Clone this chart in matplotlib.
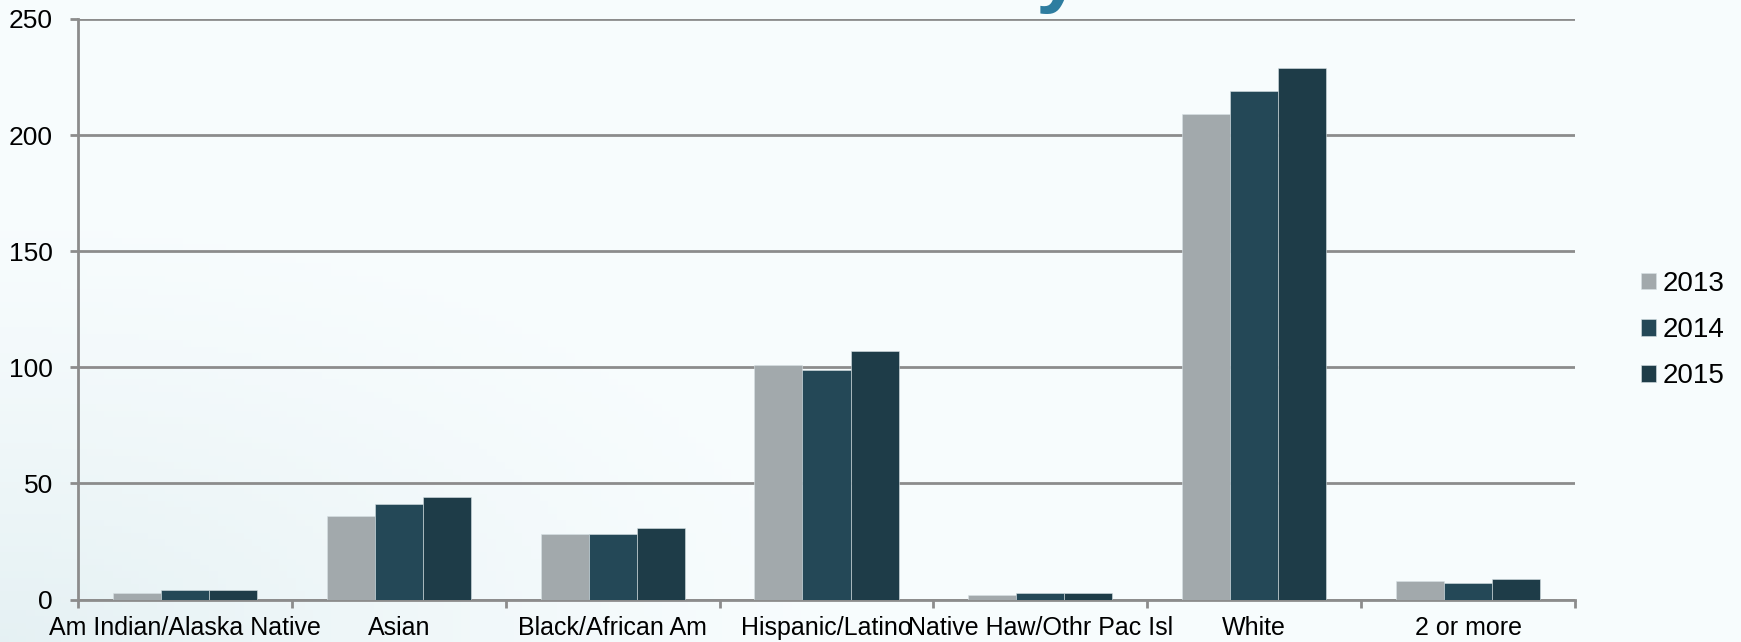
import matplotlib
matplotlib.use("Agg")
import matplotlib.pyplot as plt
import numpy as np

categories = ["Am Indian/Alaska Native", "Asian", "Black/African Am", "Hispanic/Latino",
              "Native Haw/Othr Pac Isl", "White", "2 or more"]
years = ["2013", "2014", "2015"]
v2013 = [3, 36, 28, 101, 2, 209, 8]
v2014 = [4, 41, 28, 99, 3, 219, 7]
v2015 = [4, 44, 31, 107, 3, 229, 9]
series = [v2013, v2014, v2015]
colors = ["#A2A9AC", "#244857", "#1E3C48"]
yticks = [0, 50, 100, 150, 200, 250]

plt.rcParams['font.family'] = ['Liberation Sans', 'DejaVu Sans']

W, H = 1741, 642
fig = plt.figure(figsize=(W / 100, H / 100), dpi=100)

# background gradient
bg = fig.add_axes([0, 0, 1, 1], zorder=-10)
xx = np.linspace(0, 1, 200)
yy = np.linspace(0, 1, 100)
X, Y = np.meshgrid(xx, yy)
c_light = np.array([0.972, 0.990, 0.995])
c_dark = np.array([0.90, 0.945, 0.955])
d = np.sqrt((X / 0.5) ** 2 + (Y / 0.7) ** 2)
w = np.clip(1 - d, 0, 1) ** 1.3
img = c_light[None, None, :] * (1 - w[..., None]) + c_dark[None, None, :] * w[..., None]
bg.imshow(img, origin='lower', extent=[0, 1, 0, 1], aspect='auto')
bg.set_axis_off()

left, right = 78 / W, 1575 / W
bottom, top = 1 - 599.5 / H, 1 - 19 / H
ax = fig.add_axes([left, bottom, right - left, top - bottom])
ax.set_facecolor('none')

n = len(categories)
x = np.arange(n)
bw = 0.2245
for i, (vals, col, yr) in enumerate(zip(series, colors, years)):
    ax.bar(x + (i - 1) * bw, vals, width=bw, color=col, label=yr,
           edgecolor='#d8e2e5', linewidth=0.4, zorder=3)

ax.set_xlim(-0.5, n - 0.5)
ax.set_ylim(0, 250)
ax.set_yticks(yticks)
ax.yaxis.grid(True, color='#8C8C8C', linewidth=2, zorder=1)
ax.set_axisbelow(True)

ax.set_xticks(x)
ax.set_xticklabels(categories, fontsize=18)
ax.tick_params(axis='x', length=0, pad=12)
ax.set_xticks(np.arange(-0.5, n, 1), minor=True)
ax.tick_params(axis='x', which='minor', length=6, width=2, color='#8C8C8C', direction='out')
ax.tick_params(axis='y', length=6, width=2, color='#8C8C8C', labelsize=19, pad=12)

for s in ['top', 'right']:
    ax.spines[s].set_visible(False)
for s in ['left', 'bottom']:
    ax.spines[s].set_color('#8C8C8C')
    ax.spines[s].set_linewidth(2)

leg = fig.legend(loc='center left', bbox_to_anchor=(1627 / W, 1 - 330 / H),
                 frameon=False, fontsize=20, handlelength=0.55, handleheight=0.55,
                 handletextpad=0.25, labelspacing=0.73, borderpad=0)

# partially visible title descender
fig.text(1058 / W, 1 + 3 / H, "y", color="#2E7DA0", fontsize=60, fontweight='bold',
         ha='center', va='baseline')

fig.savefig("out.png", dpi=100)
